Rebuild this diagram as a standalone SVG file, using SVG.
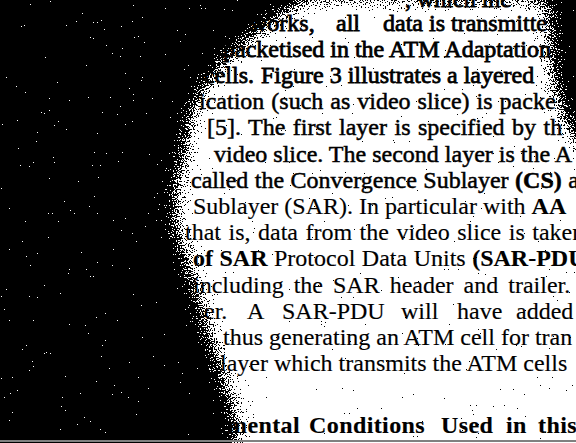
<svg xmlns="http://www.w3.org/2000/svg" width="576" height="443" viewBox="0 0 576 443">
<defs>
<style>
.t{font-family:"Liberation Serif","Times New Roman",serif;font-size:24px;fill:#000;stroke:#000}
.h{stroke-width:0.8px}
.m{stroke-width:0.5px}
.r{stroke-width:0.15px}
.b{font-weight:bold}
</style>
<filter id="dither" filterUnits="userSpaceOnUse" x="-60" y="-60" width="700" height="570" color-interpolation-filters="sRGB">
<feGaussianBlur in="SourceAlpha" stdDeviation="13" result="bl"/>
<feTurbulence type="fractalNoise" baseFrequency="0.75" numOctaves="2" seed="7" result="n"/>
<feColorMatrix in="n" type="matrix" values="0 0 0 0 0  0 0 0 0 0  0 0 0 0 0  1 0 0 0 0" result="na"/>
<feComposite in="bl" in2="na" operator="arithmetic" k1="0" k2="1" k3="1.6" k4="-0.8" result="s"/>
<feComponentTransfer in="s" result="th"><feFuncA type="discrete" tableValues="0 1"/></feComponentTransfer>
<feFlood flood-color="#000" result="f"/>
<feComposite in="f" in2="th" operator="in"/>
</filter>
</defs>
<rect width="576" height="443" fill="#fff"/>
<g id="text">
<text class="t h" x="405" y="7">, which inc</text>
<text class="t h" y="30.5"><tspan x="250">works,</tspan><tspan x="336">all</tspan><tspan x="383">data is transmitte</tspan></text>
<text class="t h" x="223" y="56.8">packetised in the ATM Adaptation</text>
<text class="t h" y="83"><tspan x="204">cells.</tspan><tspan x="261">Figure 3 illustrates a layered</tspan></text>
<text class="t m" x="199" y="109" word-spacing="1">ication (such as video slice) is packe</text>
<text class="t m" x="207" y="135.4" word-spacing="1.5">[5]. The first layer is specified by th</text>
<text class="t m" x="214" y="161.6">video slice. The second layer is the A</text>
<text class="t m" x="191" y="187.8" word-spacing="0.5">called the Convergence Sublayer <tspan class="b">(CS)</tspan> a</text>
<text class="t r" x="193" y="214">Sublayer (SAR). In particular with <tspan class="b">AA</tspan></text>
<text class="t r" x="185" y="240.2" word-spacing="1.5">that is, data from the video slice is taken</text>
<text class="t r" x="193" y="266.4" word-spacing="0.5"><tspan class="b">of SAR</tspan> Protocol Data Units <tspan class="b">(SAR-PDU</tspan></text>
<text class="t r" x="193" y="292.6" word-spacing="4">including the SAR header and trailer.</text>
<text class="t r" y="318.8"><tspan x="204">er.</tspan><tspan x="247">A</tspan><tspan x="282">SAR-PDU</tspan><tspan x="401">will</tspan><tspan x="457">have</tspan><tspan x="516">added</tspan></text>
<text class="t r" x="223" y="345">thus generating an ATM cell for tran</text>
<text class="t r" x="220" y="371.2">layer which transmits the ATM cells</text>
<text class="t b r" y="433" letter-spacing="0.4"><tspan x="227">mental</tspan><tspan x="309">Conditions</tspan><tspan x="441">Used</tspan><tspan x="506">in</tspan><tspan x="538">this</tspan></text>
</g>
<g id="shadow" filter="url(#dither)">
<path d="M-60,-60 L330,-60 L300,5 C280,15 265,25 255,35 C235,50 220,65 210,80 C195,100 188,120 187,140 C186,160 180,175 176,190 C175,215 178,235 182,245 C190,265 200,290 204,315 C210,335 218,355 222,375 C230,395 238,410 236,430 L240,510 L-60,510 Z" fill="#000"/>
<rect x="-60" y="-60" width="700" height="58" fill="#000"/>
<path d="M660,-60 L545,-60 L550,40 C552,90 560,125 600,175 L660,175 Z" fill="#000"/>
</g>
<line x1="0" y1="441" x2="576" y2="441" stroke="#808080" stroke-width="2"/>
</svg>
